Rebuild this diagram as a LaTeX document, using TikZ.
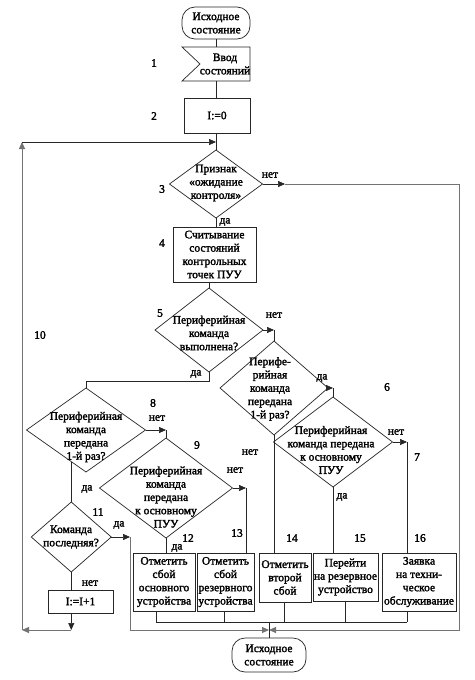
\documentclass[tikz,border=0pt]{standalone}
\usepackage{fontspec}
\setmainfont{Liberation Serif}
\newfontfamily\dfont{Liberation Serif}[RawFeature={embolden=2}]
\usetikzlibrary{arrows.meta,shapes.geometric,calc}
\begin{document}
\begin{tikzpicture}[x=1pt,y=-1pt,
  every node/.style={font=\dfont\fontsize{11.5}{13.3}\selectfont, inner sep=0pt, outer sep=0pt},
  ln/.style={draw=black!85, line width=0.7pt},
  outer/.style={draw=black!55, line width=1pt},
  arr/.style={-{Triangle[length=7pt,width=6pt]}},
  term/.style={draw=black!85, line width=0.7pt, rectangle, rounded corners=13pt, align=center},
  box/.style={draw=black!85, line width=0.7pt, rectangle, align=center},
  dia/.style={draw=black!85, line width=0.7pt, diamond},
  txt/.style={align=center},
  lab/.style={},
]
\fill[white] (0,0) rectangle (474,680);
\useasboundingbox (0,0) rectangle (474,680);

% ---- main column
\node[term, minimum width=68pt, minimum height=32pt] (t0) at (216,23) {Исходное\\состояние};
\node[minimum width=68pt, minimum height=34pt] (n1) at (216,64) {};
\draw[ln] (n1.north west) -- (n1.north east) -- (n1.south east) -- (n1.south west) -- ($(n1.west)+(18,0)$) -- cycle;
\node[txt] (n1t) at (225,64) {Ввод\\состояний};
\node[box, minimum width=66pt, minimum height=35pt] (b2) at (217,115.5) {I:=0};

\node[dia, minimum width=93pt, minimum height=68pt] (d3) at (216,184) {};
\node[txt] (d3t) at (216,183) {Признак\\«ожидание\\контроля»};
\node[box, minimum width=83pt, minimum height=55pt] (b4) at (214.5,254.5) {Считывание\\состояний\\контрольных\\точек ПУУ};

\node[dia, minimum width=108pt, minimum height=84pt] (d5) at (209,330) {};
\node[txt] (d5t) at (209,333) {Периферийная\\команда\\выполнена?};

\node[dia, minimum width=108pt, minimum height=94pt] (d6a) at (274,388) {};
\node[txt] (d6at) at (270,389) {Перифе-\\рийная\\команда\\передана\\1-й раз?};

\node[dia, minimum width=119pt, minimum height=90pt] (d6) at (333,442) {};
\node[txt] (d6t) at (331,450) {Периферийная\\команда передана\\к основному\\ПУУ};

\node[dia, minimum width=119pt, minimum height=84pt] (d8) at (86,430) {};
\node[txt] (d8t) at (86,437) {Периферийная\\команда\\передана\\1-й раз?};

\node[dia, minimum width=133pt, minimum height=100pt] (d9) at (166,488) {};
\node[txt] (d9t) at (166,497) {Периферийная\\команда\\передана\\к основному\\ПУУ};

\node[dia, minimum width=80pt, minimum height=70pt] (d11) at (d8.-115 |- 0,537) {};
\node[txt] (d11t) at (71,537) {Команда\\последняя?};

\node[box, minimum width=65pt, minimum height=23pt] (binc) at (80.5,601.5) {I:=I+1};

% ---- bottom boxes
\node[box, minimum width=62pt, minimum height=58pt] (b12) at (164,582) {Отметить\\сбой\\основного\\устройства};
\node[box, minimum width=57pt, minimum height=58pt] (b13) at (225.5,582) {Отметить\\сбой\\резервного\\устройства};
\node[box, minimum width=52pt, minimum height=49pt] (b14) at (285,577.5) {Отметить\\второй\\сбой};
\node[box, minimum width=65pt, minimum height=48pt] (b15) at (345.5,577) {Перейти\\на резервное\\устройство};
\node[box, minimum width=74pt, minimum height=58pt] (b16) at (419,582) {Заявка\\на техни-\\ческое\\обслуживание};

\node[term, minimum width=74pt, minimum height=34pt] (tf) at (269,655) {Исходное\\состояние};

% ---- coordinates
\coordinate (cJ) at (269,630);
\coordinate (cC) at (269,622);
\coordinate (c3a) at (285,184);
\coordinate (c3b) at (459,184);
\coordinate (c3c) at (459,630);
\coordinate (c7) at (407,442);
\coordinate (c13) at (246,488);
\coordinate (c11) at (130,537);
\coordinate (cBL) at (22,630);
\coordinate (cTL) at (22,142);
\coordinate (k12) at (156,622);
\coordinate (k13) at (224,622);
\coordinate (k14) at (284,622);
\coordinate (k15) at (345,622);
\coordinate (k16) at (407,622);

% ---- connectors
\draw[ln] (t0.south) -- (n1.north);
\draw[ln] (n1.south) -- (n1.south |- b2.north);
\draw[ln] (b2.south -| d3.north) -- (d3.north);
\draw[ln,arr] (d3.east) -- (c3a);
\draw[outer,arr] (c3a) -- (c3b) -- (c3c) -- (cJ);
\draw[ln] (d3.south) -- (d3.south |- b4.north);
\draw[ln] (b4.south -| d5.north) -- (d5.north);
\draw[ln,arr] (d5.east) -- (d5.east -| d6a.north);
\draw[ln] (d5.east -| d6a.north) -- (d6a.north);
\draw[ln,arr] (d6a.east) -- (d6a.east -| d6.north);
\draw[ln] (d6a.east -| d6.north) -- (d6.north);
\draw[ln,arr] (d6.east) -- (c7);
\draw[ln] (c7) -- (c7 |- b16.north);
\draw[ln] (d6.south) -- (d6.south |- b15.north);
\draw[ln] (d6a.south) -- (d6a.south |- b14.north);
\draw[ln] (d5.south) -- ++(0,9) -| (d8.north);
\draw[ln,arr] (d8.east) -- (d8.east -| d9.north);
\draw[ln] (d8.east -| d9.north) -- (d9.north);
\draw[ln,arr] (d9.east) -- (c13);
\draw[ln] (c13) -- (c13 |- b13.north);
\draw[ln] (d9.south) -- (d9.south |- b12.north);
\draw[ln] (d8.-115) -- (d11.north);
\draw[ln,arr] (d11.east) -- (c11);
\draw[outer,arr] (c11) -- (c11 |- cJ) -- (cJ);
\draw[ln] (d11.south) -- (d11.south |- binc.north);
\draw[ln,arr] (binc.south -| d11.south) -- (d11.south |- cBL);
\draw[outer,arr] (d11.south |- cBL) -- (cBL);
\draw[outer,arr] (cBL) -- (cTL);
\draw[ln,arr] (cTL) -- (cTL -| d3.north);

\draw[ln] (b12.south -| k12) -- (k12);
\draw[ln] (b13.south -| k13) -- (k13);
\draw[ln] (b14.south -| k14) -- (k14);
\draw[ln] (b15.south -| k15) -- (k15);
\draw[ln] (b16.south -| k16) -- (k16);
\draw[ln] (k12) -- (k16);
\draw[ln] (cC) -- (tf.north);

% ---- branch labels
\node[lab] (l3n) at (270,175) {нет};
\node[lab] (l3d) at (225,222) {да};
\node[lab] (l5n) at (274,315) {нет};
\node[lab] (l5d) at (196,374) {да};
\node[lab] (l6ad) at (322,378) {да};
\node[lab] (l6an) at (250,452) {нет};
\node[lab] (l6n) at (396,432) {нет};
\node[lab] (l6d) at (342,497) {да};
\node[lab] (l8n) at (157,418) {нет};
\node[lab] (l8d) at (87,489) {да};
\node[lab] (l9n) at (235,470) {нет};
\node[lab] (l9d) at (177,548) {да};
\node[lab] (l11d) at (119,525) {да};
\node[lab] (l11n) at (90,583) {нет};

% ---- step numbers
\node[lab] (s1) at (154,63) {1};
\node[lab] (s2) at (154,116) {2};
\node[lab] (s3) at (162,189) {3};
\node[lab] (s4) at (162,243) {4};
\node[lab] (s5) at (160,313) {5};
\node[lab] (s6) at (387,387) {6};
\node[lab] (s7) at (417,457) {7};
\node[lab] (s8) at (153,403) {8};
\node[lab] (s9) at (197,445) {9};
\node[lab] (s10) at (40,335) {10};
\node[lab] (s11) at (98,512) {11};
\node[lab] (s12) at (188,538) {12};
\node[lab] (s13) at (237,533) {13};
\node[lab] (s14) at (292,538) {14};
\node[lab] (s15) at (360,538) {15};
\node[lab] (s16) at (420,538) {16};
\end{tikzpicture}
\end{document}
